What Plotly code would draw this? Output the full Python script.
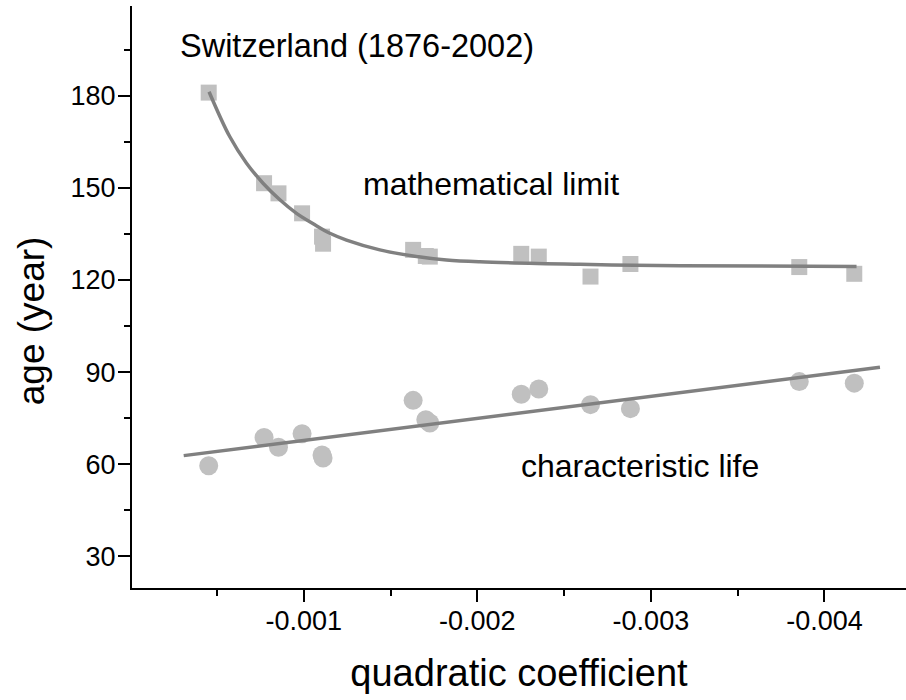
import plotly.graph_objects as go

# ---- data ----
quad_coef = [-0.000452, -0.000771, -0.000854, -0.000990, -0.001105, -0.001111,
             -0.001630, -0.001703, -0.001726, -0.002253, -0.002354, -0.002652,
             -0.002882, -0.003855, -0.004172]
math_limit = [181.0, 151.5, 148.2, 141.7, 134.1, 131.8,
              129.8, 127.8, 127.6, 128.5, 127.6, 121.1,
              125.2, 124.2, 122.0]
char_life = [59.5, 68.7, 65.5, 69.9, 63.0, 62.0,
             80.8, 74.5, 73.4, 82.8, 84.5, 79.4,
             78.1, 86.9, 86.4]

# fitted curve (limit)
limit_fit_x = [-0.000454, -0.000573, -0.000670, -0.000765, -0.000862, -0.000958,
               -0.001054, -0.001150, -0.001246, -0.001438, -0.001630, -0.001822,
               -0.002014, -0.002590, -0.003170, -0.004185]
limit_fit_y = [181.3, 166.7, 158.0, 151.5, 146.1, 141.7,
               138.3, 135.2, 133.0, 129.8, 127.8, 126.5,
               125.9, 125.1, 124.6, 124.4]

# linear fit (characteristic life) endpoints
life_fit_x = [-0.000308, -0.004320]
life_fit_y = [62.8, 91.6]

x_tickvals = [-0.001, -0.002, -0.003, -0.004]
x_ticktext = ["-0.001", "-0.002", "-0.003", "-0.004"]
y_tickvals = [30, 60, 90, 120, 150, 180]
y_ticktext = ["30", "60", "90", "120", "150", "180"]

FONT = "Liberation Sans, Arial, Helvetica, sans-serif"
MARK = "#c0c0c0"
LINE = "#808080"

fig = go.Figure()
fig.add_trace(go.Scatter(x=quad_coef, y=math_limit, mode="markers",
                         marker=dict(symbol="square", size=16, color=MARK, line=dict(width=0)),
                         showlegend=False))
fig.add_trace(go.Scatter(x=quad_coef, y=char_life, mode="markers",
                         marker=dict(symbol="circle", size=19, color=MARK, line=dict(width=0)),
                         showlegend=False))
fig.add_trace(go.Scatter(x=limit_fit_x, y=limit_fit_y, mode="lines",
                         line=dict(color=LINE, width=3.5, shape="spline"),
                         showlegend=False))
fig.add_trace(go.Scatter(x=life_fit_x, y=life_fit_y, mode="lines",
                         line=dict(color=LINE, width=3.5),
                         showlegend=False))

fig.update_layout(
    width=906, height=700,
    margin=dict(l=132, r=0, t=6, b=112),
    paper_bgcolor="white", plot_bgcolor="white",
    font=dict(family=FONT, color="black", size=27),
    xaxis=dict(
        range=[-0.00001, -0.00447], showgrid=False, zeroline=False,
        showline=True, linecolor="black", linewidth=2,
        ticks="outside", ticklen=12, tickwidth=2, tickcolor="black",
        tickvals=x_tickvals, ticktext=x_ticktext,
        tickfont=dict(size=27, family=FONT), ticklabelstandoff=-4,
        minor=dict(dtick=0.0005, tick0=0, ticks="outside", ticklen=6,
                   tickwidth=2, tickcolor="black", showgrid=False),
        title=dict(text="quadratic coefficient", font=dict(size=38, family=FONT), standoff=24),
        automargin=False,
    ),
    yaxis=dict(
        range=[19.7, 209.2], showgrid=False, zeroline=False,
        showline=True, linecolor="black", linewidth=2,
        ticks="outside", ticklen=12, tickwidth=2, tickcolor="black",
        tickvals=y_tickvals, ticktext=y_ticktext,
        tickfont=dict(size=27, family=FONT), ticklabelstandoff=-3,
        minor=dict(dtick=15, tick0=0, ticks="outside", ticklen=6,
                   tickwidth=2, tickcolor="black", showgrid=False),
        automargin=False,
    ),
    annotations=[
        dict(text="age (year)", xref="paper", yref="paper",
             x=-0.1305, y=0.460, xanchor="center", yanchor="middle",
             textangle=-90, showarrow=False, font=dict(size=37, family=FONT)),
        dict(text="Switzerland (1876-2002)", xref="paper", yref="paper",
             x=0.2903, y=0.932, xanchor="center", yanchor="middle",
             showarrow=False, font=dict(size=32.5, family=FONT)),
        dict(text="mathematical limit", xref="paper", yref="paper",
             x=0.4632, y=0.694, xanchor="center", yanchor="middle",
             showarrow=False, font=dict(size=32, family=FONT)),
        dict(text="characteristic life", xref="paper", yref="paper",
             x=0.6557, y=0.210, xanchor="center", yanchor="middle",
             showarrow=False, font=dict(size=32, family=FONT)),
    ],
)

fig.write_html("out.html", config={"displayModeBar": False},
               post_script="document.body.style.margin='0';")
